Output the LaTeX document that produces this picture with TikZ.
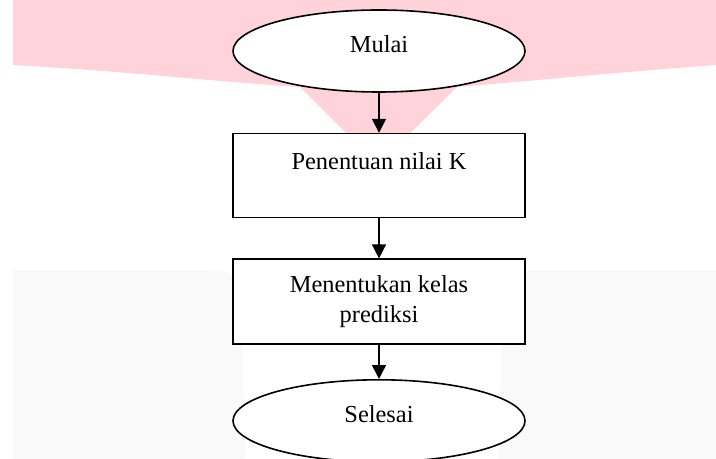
\documentclass[tikz,border=0pt]{standalone}
\usepackage{fontspec}
\setmainfont{Liberation Serif}
\usetikzlibrary{positioning,shapes.geometric,arrows.meta}
\definecolor{wmpink}{RGB}{255,211,217}
\definecolor{wmgray}{RGB}{249,249,249}
\tikzset{
  terminal/.style={draw, ellipse, fill=white, line width=0.8pt,
    minimum width=146pt, minimum height=41pt, text depth=7pt,
    font=\fontsize{12.2}{15}\selectfont},
  process/.style={draw, rectangle, fill=white, line width=0.8pt,
    minimum width=146pt, minimum height=42pt, align=center,
    font=\fontsize{12.2}{15}\selectfont},
  flow/.style={line width=0.8pt, -{Triangle[length=7pt,width=7pt]}}
}

\begin{document}
\begin{tikzpicture}[x=0.5pt,y=-0.5pt]
\useasboundingbox (0,0) rectangle (716,459);
% faint marks behind the chart
\fill[wmpink] (13,0) -- (716,0) -- (716,65)
  .. controls (620,72) and (520,82) .. (457,87) -- (378,165) -- (300,87)
  .. controls (220,82) and (110,70) .. (13,65) -- cycle;
\fill[wmgray] (13,520) -- (13,270) -- (188,270) .. controls (240,270) .. (242,320)
  -- (246,520) -- cycle;
\fill[wmgray] (760,270) -- (545,270) .. controls (503,270) .. (502,310)
  -- (498,520) -- (760,520) -- cycle;
% flowchart
\node[terminal] (mulai) at (379,51) {Mulai};
\node[process, below=20pt of mulai] (nilaik) {Penentuan nilai K\\\mbox{}};
\node[process, below=20pt of nilaik, minimum height=42.5pt] (kelas) {Menentukan kelas\\prediksi};
\node[terminal, below=17pt of kelas] (selesai) {Selesai};
\draw[flow] (mulai) -- (nilaik);
\draw[flow] (nilaik) -- (kelas);
\draw[flow] (kelas) -- (selesai);
\end{tikzpicture}
\end{document}
